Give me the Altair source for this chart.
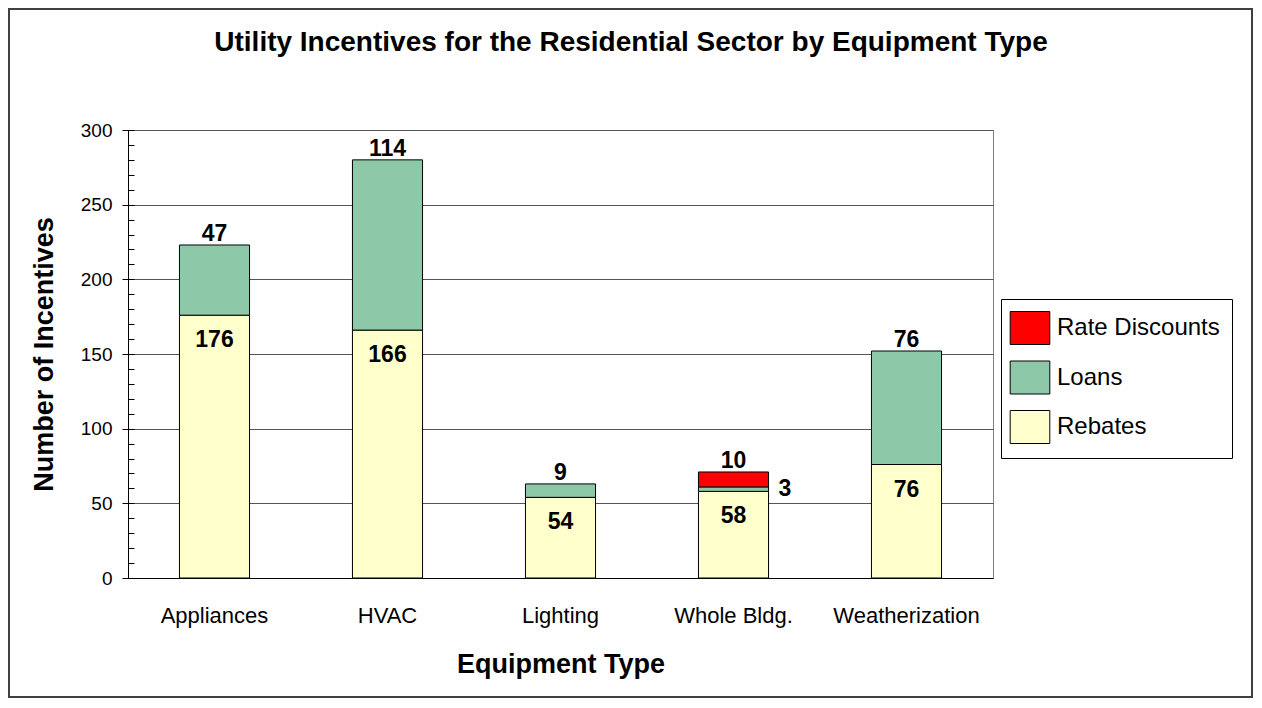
import altair as alt
import pandas as pd

categories = ["Appliances", "HVAC", "Lighting", "Whole Bldg.", "Weatherization"]
rebates = [176, 166, 54, 58, 76]
loans = [47, 114, 9, 3, 76]
rate_discounts = [0, 0, 0, 10, 0]
series_order = ["Rate Discounts", "Loans", "Rebates"]
series_colors = ["#FF0000", "#8DC8A8", "#FFFFCC"]

FONT = "Liberation Sans, Arial, sans-serif"

rows = []
for i, c in enumerate(categories):
    base = 0
    segs = [("Rebates", rebates[i]), ("Loans", loans[i]), ("Rate Discounts", rate_discounts[i])]
    nz = [s for s in segs if s[1] > 0]
    for j, (name, v) in enumerate(nz):
        if name == "Rebates":
            kind = "inside"
        elif j == len(nz) - 1:
            kind = "above"
        else:
            kind = "right"
        rows.append(dict(cat=c, series=name, value=v, start=base, end=base + v,
                         mid=base + v / 2, kind=kind))
        base += v
df = pd.DataFrame(rows)

xscale = alt.Scale(paddingInner=0.595, paddingOuter=0.2975)
xaxis = alt.Axis(title="Equipment Type", titleFont=FONT, titleFontSize=27,
                 titleFontWeight="bold", titleColor="black", titleY=94,
                 titleBaseline="alphabetic", labelFont=FONT, labelFontSize=22,
                 labelColor="black", labelAngle=0, labelPadding=44,
                 labelBaseline="alphabetic", ticks=False, tickSize=0,
                 domainColor="black", domainWidth=1, grid=False)
xenc = alt.X("cat:N", sort=categories, scale=xscale, axis=xaxis)
yscale = alt.Scale(domain=[0, 300], nice=False, zero=True)

yaxis = alt.Axis(title="Number of Incentives", titleFont=FONT, titleFontSize=27,
                 titleFontWeight="bold", titleColor="black", titleAngle=270,
                 titleX=-84, titleY=224, titleBaseline="middle", titleAlign="center",
                 values=[0, 50, 100, 150, 200, 250, 300], labelFont=FONT,
                 labelFontSize=19, labelColor="black", labelPadding=10,
                 labelFlush=False, tickSize=6, tickColor="black", tickWidth=1,
                 domainColor="black", domainWidth=1, grid=True,
                 gridColor="#555555", gridWidth=1, orient="left")

minor_axis = alt.Axis(title=None, values=list(range(0, 301, 10)), labels=False,
                      domain=False, grid=False, tickSize=6, tickColor="black",
                      tickWidth=1, orient="left", offset=-6)

base = alt.Chart(df)

bars = base.mark_bar(stroke="black", strokeWidth=1).encode(
    x=xenc,
    y=alt.Y("start:Q", scale=yscale, axis=yaxis),
    y2="end:Q",
    color=alt.Color("series:N",
                    scale=alt.Scale(domain=series_order, range=series_colors),
                    legend=alt.Legend(title=None, orient="none", legendX=873, legendY=169,
                                      symbolType="M-1.2,-1H1.2V1H-1.2Z", symbolSize=1089,
                                      symbolStrokeColor="black", symbolStrokeWidth=1,
                                      symbolOpacity=1, labelLimit=400,
                                      labelFont=FONT, labelFontSize=24, labelColor="black",
                                      labelOffset=10, padding=12, rowPadding=11.5,
                                      strokeColor="black", fillColor="white")),
)

minor = base.mark_point(opacity=0).encode(
    x=xenc,
    y=alt.Y("end:Q", scale=yscale, axis=minor_axis),
)

label_style = dict(font=FONT, fontSize=23, fontWeight="bold", color="black")

inside = base.transform_filter(alt.datum.kind == "inside").mark_text(
    baseline="middle", dy=25, **label_style).encode(
    x=xenc, y=alt.Y("end:Q", scale=yscale, axis=None), text="value:Q")

above = base.transform_filter(alt.datum.kind == "above").mark_text(
    baseline="alphabetic", dy=-4, **label_style).encode(
    x=xenc, y=alt.Y("end:Q", scale=yscale, axis=None), text="value:Q")

right = base.transform_filter(alt.datum.kind == "right").mark_text(
    baseline="middle", align="left", dx=45, **label_style).encode(
    x=xenc, y=alt.Y("mid:Q", scale=yscale, axis=None), text="value:Q")

one = pd.DataFrame({"t": ["Utility Incentives for the Residential Sector by Equipment Type"]})
title = alt.Chart(one).mark_text(font=FONT, fontSize=28, fontWeight="bold", color="black",
                                 align="center", baseline="alphabetic").encode(
    x=alt.value(503), y=alt.value(-79), text="t:N")

frame = alt.Chart(one).mark_rect(fillOpacity=0, stroke="#404040", strokeWidth=2).encode(
    x=alt.value(-119), x2=alt.value(1124), y=alt.value(-121), y2=alt.value(567))

chart = alt.layer(frame, bars, minor, inside, above, right, title).resolve_axis(
    y="independent"
).properties(
    width=865, height=448,
    autosize=alt.AutoSizeParams(type="none"),
    padding={"left": 120, "top": 122, "right": 260, "bottom": 120},
    background="white",
).configure_view(stroke="#808080", strokeWidth=1)

chart.save("out.html", embed_options={"renderer": "svg", "actions": False})
